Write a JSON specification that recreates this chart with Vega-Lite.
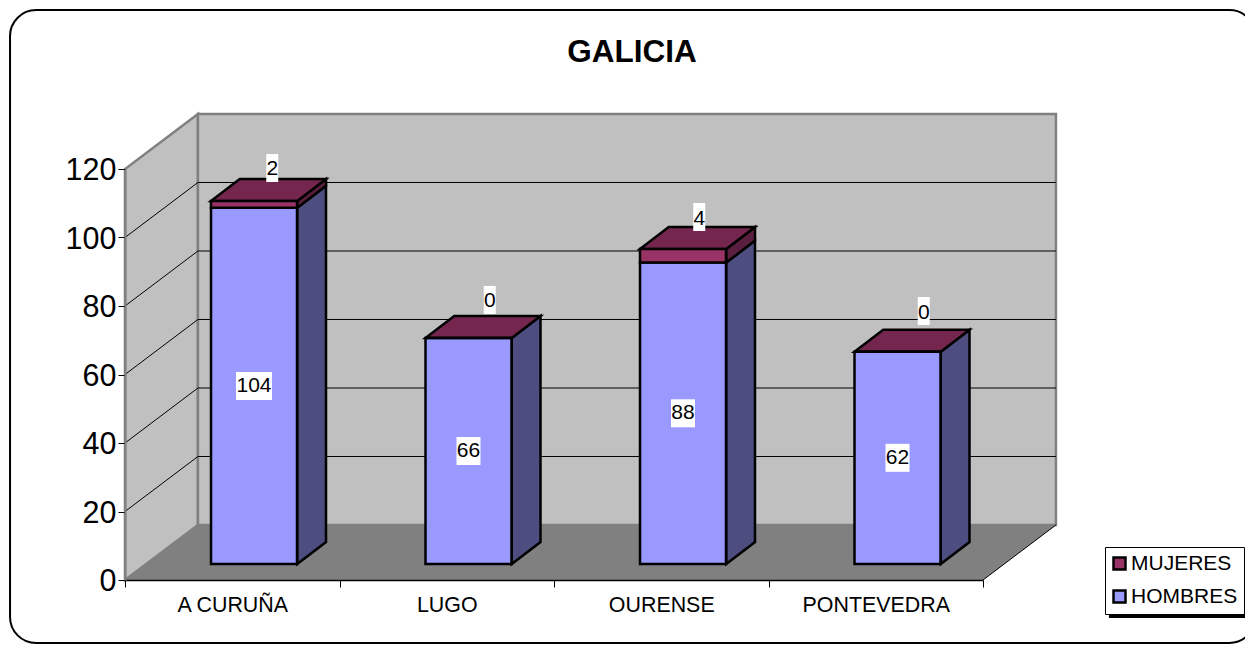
{
"$schema":"https://vega.github.io/schema/vega-lite/v6.json",
"width":858,"height":411,
"autosize":{"type":"none"},
"padding":{"left":125,"top":169,"right":262,"bottom":65},
"background":"white",
"title":{"text":"GALICIA","font":"Liberation Sans","fontSize":31.5,"fontWeight":"bold","color":"black","anchor":"middle","dx":78,"offset":-59},
"config":{"view":{"stroke":null},"font":"Liberation Sans"},
"datasets":{
"barras":[
{"provincia":"A CURUÑA","serie":"HOMBRES","valor":104,"desde":0,"hasta":104,"medio":52},
{"provincia":"LUGO","serie":"HOMBRES","valor":66,"desde":0,"hasta":66,"medio":33},
{"provincia":"OURENSE","serie":"HOMBRES","valor":88,"desde":0,"hasta":88,"medio":44},
{"provincia":"PONTEVEDRA","serie":"HOMBRES","valor":62,"desde":0,"hasta":62,"medio":31},
{"provincia":"A CURUÑA","serie":"MUJERES","valor":2,"desde":104,"hasta":106,"medio":105},
{"provincia":"LUGO","serie":"MUJERES","valor":0,"desde":66,"hasta":66,"medio":66},
{"provincia":"OURENSE","serie":"MUJERES","valor":4,"desde":88,"hasta":92,"medio":90},
{"provincia":"PONTEVEDRA","serie":"MUJERES","valor":0,"desde":62,"hasta":62,"medio":62}
],
"caras":[
{"provincia":"A CURUÑA","cara":"lateral HOMBRES","esquina":"frente-der","valor":0,"alto":4.67,"orden":1},
{"provincia":"A CURUÑA","cara":"lateral HOMBRES","esquina":"fondo-der","valor":0,"alto":11.09,"orden":2},
{"provincia":"A CURUÑA","cara":"lateral HOMBRES","esquina":"fondo-der","valor":104,"alto":115.09,"orden":3},
{"provincia":"A CURUÑA","cara":"lateral HOMBRES","esquina":"frente-der","valor":104,"alto":108.67,"orden":4},
{"provincia":"LUGO","cara":"lateral HOMBRES","esquina":"frente-der","valor":0,"alto":4.67,"orden":1},
{"provincia":"LUGO","cara":"lateral HOMBRES","esquina":"fondo-der","valor":0,"alto":11.09,"orden":2},
{"provincia":"LUGO","cara":"lateral HOMBRES","esquina":"fondo-der","valor":66,"alto":77.09,"orden":3},
{"provincia":"LUGO","cara":"lateral HOMBRES","esquina":"frente-der","valor":66,"alto":70.67,"orden":4},
{"provincia":"OURENSE","cara":"lateral HOMBRES","esquina":"frente-der","valor":0,"alto":4.67,"orden":1},
{"provincia":"OURENSE","cara":"lateral HOMBRES","esquina":"fondo-der","valor":0,"alto":11.09,"orden":2},
{"provincia":"OURENSE","cara":"lateral HOMBRES","esquina":"fondo-der","valor":88,"alto":99.09,"orden":3},
{"provincia":"OURENSE","cara":"lateral HOMBRES","esquina":"frente-der","valor":88,"alto":92.67,"orden":4},
{"provincia":"PONTEVEDRA","cara":"lateral HOMBRES","esquina":"frente-der","valor":0,"alto":4.67,"orden":1},
{"provincia":"PONTEVEDRA","cara":"lateral HOMBRES","esquina":"fondo-der","valor":0,"alto":11.09,"orden":2},
{"provincia":"PONTEVEDRA","cara":"lateral HOMBRES","esquina":"fondo-der","valor":62,"alto":73.09,"orden":3},
{"provincia":"PONTEVEDRA","cara":"lateral HOMBRES","esquina":"frente-der","valor":62,"alto":66.67,"orden":4},
{"provincia":"A CURUÑA","cara":"lateral MUJERES","esquina":"frente-der","valor":104,"alto":108.67,"orden":1},
{"provincia":"A CURUÑA","cara":"lateral MUJERES","esquina":"fondo-der","valor":104,"alto":115.09,"orden":2},
{"provincia":"A CURUÑA","cara":"lateral MUJERES","esquina":"fondo-der","valor":106,"alto":117.09,"orden":3},
{"provincia":"A CURUÑA","cara":"lateral MUJERES","esquina":"frente-der","valor":106,"alto":110.67,"orden":4},
{"provincia":"OURENSE","cara":"lateral MUJERES","esquina":"frente-der","valor":88,"alto":92.67,"orden":1},
{"provincia":"OURENSE","cara":"lateral MUJERES","esquina":"fondo-der","valor":88,"alto":99.09,"orden":2},
{"provincia":"OURENSE","cara":"lateral MUJERES","esquina":"fondo-der","valor":92,"alto":103.09,"orden":3},
{"provincia":"OURENSE","cara":"lateral MUJERES","esquina":"frente-der","valor":92,"alto":96.67,"orden":4},
{"provincia":"A CURUÑA","cara":"tapa","esquina":"frente-izq","valor":106,"alto":110.67,"orden":1},
{"provincia":"A CURUÑA","cara":"tapa","esquina":"frente-der","valor":106,"alto":110.67,"orden":2},
{"provincia":"A CURUÑA","cara":"tapa","esquina":"fondo-der","valor":106,"alto":117.09,"orden":3},
{"provincia":"A CURUÑA","cara":"tapa","esquina":"fondo-izq","valor":106,"alto":117.09,"orden":4},
{"provincia":"LUGO","cara":"tapa","esquina":"frente-izq","valor":66,"alto":70.67,"orden":1},
{"provincia":"LUGO","cara":"tapa","esquina":"frente-der","valor":66,"alto":70.67,"orden":2},
{"provincia":"LUGO","cara":"tapa","esquina":"fondo-der","valor":66,"alto":77.09,"orden":3},
{"provincia":"LUGO","cara":"tapa","esquina":"fondo-izq","valor":66,"alto":77.09,"orden":4},
{"provincia":"OURENSE","cara":"tapa","esquina":"frente-izq","valor":92,"alto":96.67,"orden":1},
{"provincia":"OURENSE","cara":"tapa","esquina":"frente-der","valor":92,"alto":96.67,"orden":2},
{"provincia":"OURENSE","cara":"tapa","esquina":"fondo-der","valor":92,"alto":103.09,"orden":3},
{"provincia":"OURENSE","cara":"tapa","esquina":"fondo-izq","valor":92,"alto":103.09,"orden":4},
{"provincia":"PONTEVEDRA","cara":"tapa","esquina":"frente-izq","valor":62,"alto":66.67,"orden":1},
{"provincia":"PONTEVEDRA","cara":"tapa","esquina":"frente-der","valor":62,"alto":66.67,"orden":2},
{"provincia":"PONTEVEDRA","cara":"tapa","esquina":"fondo-der","valor":62,"alto":73.09,"orden":3},
{"provincia":"PONTEVEDRA","cara":"tapa","esquina":"fondo-izq","valor":62,"alto":73.09,"orden":4}
],
"planos":[
{"plano":"izquierda","x":0,"alto":0,"orden":1},
{"plano":"izquierda","x":0,"alto":120,"orden":2},
{"plano":"izquierda","x":0.34,"alto":136.06,"orden":3},
{"plano":"izquierda","x":0.34,"alto":16.06,"orden":4},
{"plano":"fondo","x":0.34,"alto":16.06,"orden":1},
{"plano":"fondo","x":0.34,"alto":136.06,"orden":2},
{"plano":"fondo","x":4.34,"alto":136.06,"orden":3},
{"plano":"fondo","x":4.34,"alto":16.06,"orden":4},
{"plano":"suelo","x":0,"alto":0,"orden":1},
{"plano":"suelo","x":4,"alto":0,"orden":2},
{"plano":"suelo","x":4.34,"alto":16.06,"orden":3},
{"plano":"suelo","x":0.34,"alto":16.06,"orden":4}
],
"rejilla":[
{"linea":"g20","x":0,"alto":20,"orden":1},{"linea":"g20","x":0.34,"alto":36.06,"orden":2},{"linea":"g20","x":4.34,"alto":36.06,"orden":3},
{"linea":"g40","x":0,"alto":40,"orden":1},{"linea":"g40","x":0.34,"alto":56.06,"orden":2},{"linea":"g40","x":4.34,"alto":56.06,"orden":3},
{"linea":"g60","x":0,"alto":60,"orden":1},{"linea":"g60","x":0.34,"alto":76.06,"orden":2},{"linea":"g60","x":4.34,"alto":76.06,"orden":3},
{"linea":"g80","x":0,"alto":80,"orden":1},{"linea":"g80","x":0.34,"alto":96.06,"orden":2},{"linea":"g80","x":4.34,"alto":96.06,"orden":3},
{"linea":"g100","x":0,"alto":100,"orden":1},{"linea":"g100","x":0.34,"alto":116.06,"orden":2},{"linea":"g100","x":4.34,"alto":116.06,"orden":3},
{"linea":"suelo","x":4,"alto":0,"orden":1},{"linea":"suelo","x":4.34,"alto":16.06,"orden":2}
]
},
"resolve":{"scale":{"x":"independent","xOffset":"independent"},"axis":{"x":"independent"}},
"layer":[
{
"layer":[
{"data":{"values":[{"x0":-0.536,"x1":5.27,"y0":-18.4,"y1":166.4}]},
 "mark":{"type":"rect","fill":"white","stroke":"black","strokeWidth":2,"cornerRadius":26},
 "encoding":{"x":{"field":"x0","type":"quantitative","scale":{"domain":[0,4],"nice":false,"zero":false},"axis":null},"x2":{"field":"x1"},"y":{"field":"y0","type":"quantitative","scale":{"domain":[0,120],"nice":false},"axis":{"title":null,"values":[0,20,40,60,80,100,120],"grid":false,"labelFont":"Liberation Sans","labelFontSize":30.5,"labelColor":"black","labelPadding":2,"labelOffset":1.5,"tickSize":7,"tickColor":"black","domainColor":"#808080","domainWidth":2,"zindex":1}},"y2":{"field":"y1"}}},
{"data":{"values":[{"x0":4.587,"x1":5.3,"y0":-11.1,"y1":-9.6}]},
 "mark":{"type":"rect","fill":"black"},
 "encoding":{"x":{"field":"x0","type":"quantitative"},"x2":{"field":"x1"},"y":{"field":"y0","type":"quantitative"},"y2":{"field":"y1"}}},
{"data":{"name":"planos"},"transform":[{"filter":"datum.plano!='suelo'"}],
 "mark":{"type":"line","interpolate":"linear-closed","fill":"#C0C0C0","stroke":"#808080","strokeWidth":2.5},
 "encoding":{"x":{"field":"x","type":"quantitative"},"y":{"field":"alto","type":"quantitative"},"detail":{"field":"plano"},"order":{"field":"orden"}}},
{"data":{"name":"planos"},"transform":[{"filter":"datum.plano=='suelo'"}],
 "mark":{"type":"line","interpolate":"linear-closed","fill":"#808080","strokeWidth":0},
 "encoding":{"x":{"field":"x","type":"quantitative"},"y":{"field":"alto","type":"quantitative"},"detail":{"field":"plano"},"order":{"field":"orden"}}},
{"data":{"name":"rejilla"},
 "mark":{"type":"line","stroke":"black","strokeWidth":1},
 "encoding":{"x":{"field":"x","type":"quantitative"},"y":{"field":"alto","type":"quantitative"},"detail":{"field":"linea"},"order":{"field":"orden"}}}
]
},
{
"encoding":{
 "x":{"field":"provincia","type":"nominal","sort":null,"scale":{"paddingInner":0,"paddingOuter":0},
  "axis":{"title":null,"orient":"bottom","labelAngle":0,"tickBand":"extent","labelFont":"Liberation Sans","labelFontSize":21.4,"labelColor":"black","labelPadding":7,"tickSize":7,"tickColor":"black","domainColor":"black","domainWidth":1.5,"zindex":1}}
},
"layer":[
{"data":{"name":"caras"},"transform":[{"filter":"datum.cara=='lateral HOMBRES'"}],
 "mark":{"type":"line","interpolate":"linear-closed","fill":"#4D4D80","stroke":"black","strokeWidth":2.5},
 "encoding":{"y":{"field":"alto","type":"quantitative"},
  "xOffset":{"field":"esquina","type":"nominal","scale":{"type":"point","padding":0,"domain":["frente-izq","fondo-izq","medio","frente-der","fondo-der"],"range":[86,201]}},
  "detail":{"field":"provincia"},"order":{"field":"orden"}}},
{"data":{"name":"caras"},"transform":[{"filter":"datum.cara=='lateral MUJERES'"}],
 "mark":{"type":"line","interpolate":"linear-closed","fill":"#5A1F3E","stroke":"black","strokeWidth":2.5},
 "encoding":{"y":{"field":"alto","type":"quantitative"},"xOffset":{"field":"esquina","type":"nominal"},"detail":{"field":"provincia"},"order":{"field":"orden"}}},
{"data":{"name":"caras"},"transform":[{"filter":"datum.cara=='tapa'"}],
 "mark":{"type":"line","interpolate":"linear-closed","fill":"#74264F","stroke":"black","strokeWidth":2.5},
 "encoding":{"y":{"field":"alto","type":"quantitative"},"xOffset":{"field":"esquina","type":"nominal"},"detail":{"field":"provincia"},"order":{"field":"orden"}}},
{"data":{"name":"barras"},
 "mark":{"type":"bar","width":86,"xOffset":21.75,"yOffset":-16,"y2Offset":-16,"stroke":"black","strokeWidth":2.5},
 "encoding":{"y":{"field":"desde","type":"quantitative"},"y2":{"field":"hasta"},
  "fill":{"field":"serie","type":"nominal","scale":{"domain":["MUJERES","HOMBRES"],"range":["#993366","#9999FF"]},
   "legend":{"title":null,"orient":"none","legendX":980,"legendY":378,"fillColor":"white","strokeColor":"black","padding":6,"symbolType":"square","symbolSize":144,"symbolStrokeColor":"black","symbolStrokeWidth":2.5,"labelFont":"Liberation Sans","labelFontSize":21,"labelColor":"black","rowPadding":10,"labelOffset":1,"symbolOffset":-2}}}},
{"data":{"name":"barras"},"transform":[{"filter":"datum.serie=='HOMBRES' && datum.valor>=100"}],
 "mark":{"type":"rect","width":36,"height":28,"xOffset":21.75,"yOffset":-16,"fill":"white"},
 "encoding":{"y":{"field":"medio","type":"quantitative"}}},
{"data":{"name":"barras"},"transform":[{"filter":"datum.serie=='HOMBRES' && datum.valor<100"}],
 "mark":{"type":"rect","width":24,"height":28,"xOffset":21.75,"yOffset":-16,"fill":"white"},
 "encoding":{"y":{"field":"medio","type":"quantitative"}}},
{"data":{"name":"barras"},"transform":[{"filter":"datum.serie=='HOMBRES'"}],
 "mark":{"type":"text","font":"Liberation Sans","fontSize":21,"color":"black","xOffset":21.75,"yOffset":-16,"baseline":"middle"},
 "encoding":{"y":{"field":"medio","type":"quantitative"},"text":{"field":"valor","type":"quantitative"}}},
{"data":{"name":"barras"},"transform":[{"filter":"datum.serie=='MUJERES' && datum.provincia=='A CURUÑA'"}],
 "mark":{"type":"rect","width":12,"height":28,"xOffset":40,"yOffset":-52.4,"fill":"white"},
 "encoding":{"y":{"field":"medio","type":"quantitative"}}},
{"data":{"name":"barras"},"transform":[{"filter":"datum.serie=='MUJERES' && datum.provincia=='A CURUÑA'"}],
 "mark":{"type":"text","font":"Liberation Sans","fontSize":21,"color":"black","xOffset":40,"yOffset":-50.9,"baseline":"middle"},
 "encoding":{"y":{"field":"medio","type":"quantitative"},"text":{"field":"valor","type":"quantitative"}}},
{"data":{"name":"barras"},"transform":[{"filter":"datum.serie=='MUJERES' && datum.provincia=='LUGO'"}],
 "mark":{"type":"rect","width":12,"height":28,"xOffset":43,"yOffset":-54,"fill":"white"},
 "encoding":{"y":{"field":"medio","type":"quantitative"}}},
{"data":{"name":"barras"},"transform":[{"filter":"datum.serie=='MUJERES' && datum.provincia=='LUGO'"}],
 "mark":{"type":"text","font":"Liberation Sans","fontSize":21,"color":"black","xOffset":43,"yOffset":-52.5,"baseline":"middle"},
 "encoding":{"y":{"field":"medio","type":"quantitative"},"text":{"field":"valor","type":"quantitative"}}},
{"data":{"name":"barras"},"transform":[{"filter":"datum.serie=='MUJERES' && datum.provincia=='OURENSE'"}],
 "mark":{"type":"rect","width":12,"height":28,"xOffset":38,"yOffset":-54.75,"fill":"white"},
 "encoding":{"y":{"field":"medio","type":"quantitative"}}},
{"data":{"name":"barras"},"transform":[{"filter":"datum.serie=='MUJERES' && datum.provincia=='OURENSE'"}],
 "mark":{"type":"text","font":"Liberation Sans","fontSize":21,"color":"black","xOffset":38,"yOffset":-53.25,"baseline":"middle"},
 "encoding":{"y":{"field":"medio","type":"quantitative"},"text":{"field":"valor","type":"quantitative"}}},
{"data":{"name":"barras"},"transform":[{"filter":"datum.serie=='MUJERES' && datum.provincia=='PONTEVEDRA'"}],
 "mark":{"type":"rect","width":12,"height":28,"xOffset":48,"yOffset":-56.6,"fill":"white"},
 "encoding":{"y":{"field":"medio","type":"quantitative"}}},
{"data":{"name":"barras"},"transform":[{"filter":"datum.serie=='MUJERES' && datum.provincia=='PONTEVEDRA'"}],
 "mark":{"type":"text","font":"Liberation Sans","fontSize":21,"color":"black","xOffset":48,"yOffset":-55.1,"baseline":"middle"},
 "encoding":{"y":{"field":"medio","type":"quantitative"},"text":{"field":"valor","type":"quantitative"}}}
]
}
]
}
